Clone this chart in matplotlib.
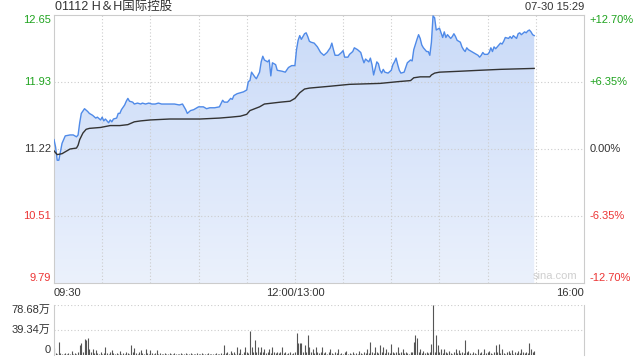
import numpy as np
import matplotlib.pyplot as plt
from matplotlib.colors import LinearSegmentedColormap

plt.rcParams['font.family'] = ['Liberation Sans', 'Noto Sans CJK SC', 'DejaVu Sans']

title = '01112 H＆H国际控股'
stamp = '07-30 15:29'
price_ticks = [12.65, 11.93, 11.22, 10.51, 9.79]
pct_labels = ['+12.70%', '+6.35%', '0.00%', '-6.35%', '-12.70%']
time_pos = [0, 150, 330]
time_labels = ['09:30', '12:00/13:00', '16:00']
vol_ticks = [78.68, 39.34, 0]
vol_labels = ['78.68万', '39.34万', '0']

# minutes since 09:30 (lunch break removed, 13:00 = 150)
price_t = [0, 1, 2, 3, 4, 5, 6, 7, 10, 12, 14, 15, 16, 17, 19, 21, 22, 24, 26, 27,
           29, 30, 31, 32, 34, 35, 36, 37, 39, 40, 41, 42, 44, 45, 46, 47, 49, 50, 52, 54,
           55, 57, 59, 61, 63, 65, 67, 70, 72, 75, 78, 80, 82, 83, 85, 87, 88, 90, 93, 95,
           97, 100, 103, 105, 106, 108, 110, 111, 112, 114, 116, 118, 120, 121, 122, 123, 125, 126, 128, 129,
           130, 131, 133, 134, 135, 136, 138, 139, 142, 144, 146, 148, 149, 150, 151, 152, 153, 154, 155, 156,
           157, 158, 159, 160, 162, 164, 166, 168, 170, 172, 173, 174, 175, 177, 179, 180, 181, 183, 184, 186,
           187, 189, 191, 192, 193, 194, 196, 197, 198, 199, 200, 201, 202, 203, 204, 205, 206, 208, 210, 211,
           212, 213, 214, 215, 216, 218, 219, 220, 222, 223, 224, 226, 227, 228, 229, 230, 232, 233, 234, 235,
           236, 237, 238, 239, 240, 241, 242, 243, 244, 245, 247, 248, 249, 250, 251, 253, 254, 255, 256, 257,
           258, 260, 262, 264, 265, 266, 267, 268, 270, 271, 272, 273, 274, 275, 277, 278, 279, 280, 281, 283,
           284, 285, 286, 288, 289, 290, 291, 293, 294, 295, 296, 297, 298, 299]
price = [11.32, 11.24, 11.10, 11.10, 11.19, 11.28, 11.32, 11.36, 11.37, 11.37, 11.35, 11.37, 11.50, 11.60, 11.65, 11.62, 11.60, 11.58, 11.55, 11.56,
         11.53, 11.56, 11.52, 11.54, 11.50, 11.53, 11.51, 11.54, 11.55, 11.60, 11.60, 11.64, 11.69, 11.73, 11.76, 11.73, 11.72, 11.70, 11.71, 11.70,
         11.71, 11.70, 11.71, 11.70, 11.70, 11.71, 11.70, 11.70, 11.70, 11.70, 11.69, 11.70, 11.64, 11.60, 11.63, 11.64, 11.65, 11.67, 11.67, 11.65,
         11.66, 11.66, 11.67, 11.74, 11.72, 11.72, 11.76, 11.75, 11.79, 11.81, 11.82, 11.83, 11.85, 11.94, 11.95, 12.04, 11.99, 11.97, 12.04, 12.15,
         12.21, 12.17, 12.15, 12.17, 12.00, 12.14, 12.12, 12.06, 12.05, 12.04, 12.09, 12.11, 12.11, 12.11, 12.28, 12.38, 12.43, 12.39, 12.42, 12.45,
         12.46, 12.42, 12.37, 12.36, 12.35, 12.31, 12.25, 12.22, 12.25, 12.30, 12.35, 12.28, 12.22, 12.22, 12.25, 12.27, 12.20, 12.20, 12.23, 12.26,
         12.30, 12.28, 12.25, 12.19, 12.14, 12.18, 12.15, 12.19, 12.12, 12.01, 12.08, 12.15, 12.13, 12.06, 12.03, 12.07, 12.04, 12.03, 12.06, 12.12,
         12.15, 12.19, 12.12, 12.06, 12.03, 12.04, 12.09, 12.14, 12.17, 12.16, 12.28, 12.39, 12.44, 12.40, 12.33, 12.30, 12.26, 12.26, 12.22, 12.36,
         12.64, 12.62, 12.49, 12.50, 12.51, 12.46, 12.41, 12.47, 12.41, 12.44, 12.40, 12.42, 12.45, 12.42, 12.38, 12.36, 12.31, 12.28, 12.26, 12.30,
         12.28, 12.26, 12.24, 12.22, 12.20, 12.22, 12.25, 12.23, 12.23, 12.25, 12.30, 12.26, 12.31, 12.29, 12.33, 12.35, 12.34, 12.37, 12.41, 12.40,
         12.42, 12.40, 12.43, 12.40, 12.45, 12.46, 12.44, 12.47, 12.46, 12.48, 12.49, 12.47, 12.44, 12.43]

avg_t = [0, 2, 5, 7, 10, 14, 15, 16, 18, 20, 22, 29, 35, 41, 46, 50, 54, 60, 72, 91,
         103, 110, 116, 120, 122, 125, 128, 131, 136, 141, 147, 150, 153, 156, 159, 172, 184, 203, 215, 222,
         224, 228, 234, 235, 237, 240, 253, 265, 278, 299]
avg = [11.20, 11.16, 11.17, 11.19, 11.22, 11.23, 11.26, 11.32, 11.39, 11.43, 11.44, 11.45, 11.47, 11.47, 11.48, 11.51, 11.52, 11.53, 11.54, 11.54,
       11.55, 11.56, 11.57, 11.59, 11.63, 11.65, 11.67, 11.70, 11.71, 11.72, 11.73, 11.76, 11.82, 11.86, 11.87, 11.89, 11.91, 11.92, 11.94, 11.95,
       11.98, 11.99, 11.99, 12.01, 12.03, 12.04, 12.05, 12.06, 12.07, 12.08]

# volume per minute, in 万
volume = [11, 3, 2, 21, 3, 2, 2, 3, 2, 3, 2, 6, 2, 3, 2, 4, 15, 19, 5, 25,
          24, 26, 10, 4, 9, 3, 8, 3, 2, 4, 2, 3, 13, 3, 2, 4, 8, 3, 2, 3,
          2, 6, 2, 3, 2, 4, 3, 2, 15, 4, 11, 3, 2, 4, 8, 3, 2, 9, 3, 2,
          8, 3, 2, 3, 8, 2, 3, 2, 1, 3, 2, 2, 3, 1, 2, 3, 2, 2, 1, 3,
          2, 1, 3, 2, 2, 3, 1, 2, 2, 3, 1, 2, 3, 2, 1, 2, 3, 2, 2, 1,
          2, 3, 2, 1, 3, 2, 16, 3, 4, 2, 6, 3, 4, 2, 13, 3, 10, 2, 4, 13,
          4, 3, 38, 13, 5, 24, 4, 13, 5, 13, 4, 10, 3, 4, 10, 3, 13, 4, 3, 5,
          3, 4, 13, 3, 4, 2, 3, 5, 2, 3, 4, 35, 19, 19, 19, 5, 15, 4, 32, 13,
          4, 10, 3, 13, 4, 3, 5, 13, 3, 4, 2, 4, 10, 3, 2, 4, 3, 10, 2, 3,
          2, 4, 6, 2, 3, 2, 4, 2, 3, 2, 6, 3, 2, 4, 3, 10, 3, 20, 4, 3,
          13, 4, 3, 16, 4, 13, 3, 10, 4, 3, 18, 4, 3, 5, 13, 3, 4, 10, 3, 4,
          3, 2, 4, 5, 20, 32, 27, 4, 10, 3, 6, 3, 4, 3, 5, 18, 78.5, 5, 32, 16,
          4, 10, 3, 10, 4, 3, 6, 3, 2, 4, 9, 3, 8, 3, 4, 3, 23, 4, 6, 3,
          2, 4, 3, 2, 9, 3, 4, 2, 10, 3, 4, 6, 3, 2, 4, 15, 4, 18, 3, 10,
          3, 2, 4, 6, 3, 8, 2, 4, 3, 6, 3, 9, 4, 3, 4, 3, 19, 10, 4, 6]

green = '#1fa31f'
red = '#ec3434'
dark = '#333333'
gridc = '#cccccc'
dots = (0, (1, 2))

fig = plt.figure(figsize=(6.4, 3.6), dpi=100)
ax = fig.add_axes([54/640, 1-283/360, 530/640, 268/360])
axv = fig.add_axes([54/640, 1-355/360, 530/640, 50/360])

# gradient area under the price line
fill = ax.fill_between(price_t, price, price_ticks[-1], color='none', lw=0)
cmap = LinearSegmentedColormap.from_list('fade', ['#ebf1fc', '#c9daf8'])
grad = ax.imshow(np.linspace(0, 1, 256).reshape(-1, 1), cmap=cmap, aspect='auto', origin='lower',
                 extent=[0, 330, price_ticks[-1], price_ticks[0]], zorder=1)
grad.set_clip_path(fill.get_paths()[0], transform=ax.transData)

ax.plot(price_t, price, color='#4f8ae8', lw=1.0, zorder=3)
ax.plot(avg_t, avg, color=dark, lw=1.0, zorder=3)

ax.set_xlim(0, 330)
ax.set_ylim(price_ticks[-1], price_ticks[0])
ax.set_xticks(range(30, 330, 30))
ax.set_yticks(price_ticks[1:-1])
ax.grid(True, color=gridc, ls=dots, lw=0.8, zorder=0)
ax.tick_params(length=0, labelleft=False, labelbottom=False)
for s in ax.spines.values():
    s.set_color(gridc)
    s.set_linewidth(0.8)

colors = [green, green, dark, red, red]
vas = ['top', 'center', 'center', 'center', 'bottom']
for p, lab, c, va in zip(price_ticks, pct_labels, colors, vas):
    ax.text(-0.006, p, '%.2f' % p, transform=ax.get_yaxis_transform(), ha='right', va=va, color=c, fontsize=8)
    ax.text(1.011, p, lab, transform=ax.get_yaxis_transform(), ha='left', va=va, color=c, fontsize=8)

for t, lab, ha in zip(time_pos, time_labels, ['left', 'center', 'right']):
    ax.text(t, -0.018, lab, transform=ax.get_xaxis_transform(), ha=ha, va='top', color=dark, fontsize=8)

ax.text(0.987, 0.008, 'sina.com', transform=ax.transAxes, ha='right', va='bottom', color='#cfcfcf', fontsize=8)

fig.text(55/640, 1-7/360, title, ha='left', va='center', color=dark, fontsize=9)
fig.text(584/640, 1-7/360, stamp, ha='right', va='center', color=dark, fontsize=8)

# volume panel
axv.vlines(range(len(volume)), 0, volume, color='#555555', lw=0.8)
axv.set_xlim(0, 330)
axv.set_ylim(0, vol_ticks[0])
axv.set_xticks([])
axv.set_yticks([])
for v in vol_ticks[:2]:
    axv.axhline(v, color=gridc, ls=dots, lw=0.8)
for side in ['top', 'bottom']:
    axv.spines[side].set_visible(False)
for side in ['left', 'right']:
    axv.spines[side].set_color(gridc)
    axv.spines[side].set_linewidth(0.8)
for v, lab, va in zip(vol_ticks, vol_labels, ['top', 'center', 'bottom']):
    axv.text(-0.006, v, lab, transform=axv.get_yaxis_transform(), ha='right', va=va, color=dark, fontsize=8)

fig.savefig('out.png', dpi=100)
